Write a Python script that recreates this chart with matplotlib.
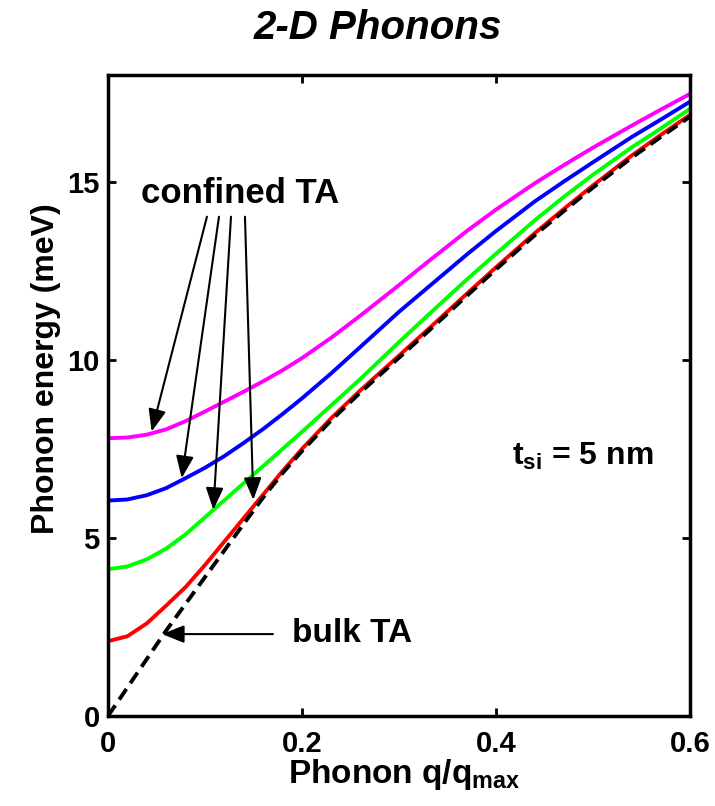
import matplotlib
matplotlib.use("Agg")
import matplotlib.pyplot as plt
import numpy as np

plt.rcParams['font.family'] = ['Liberation Sans', 'DejaVu Sans']
plt.rcParams['font.weight'] = 'bold'
plt.rcParams['mathtext.fontset'] = 'custom'
plt.rcParams['mathtext.default'] = 'bf'
plt.rcParams['mathtext.bf'] = 'Liberation Sans:bold'
plt.rcParams['mathtext.rm'] = 'Liberation Sans:bold'

# phonon wavevector q/q_max
q = [0, 0.02, 0.04, 0.06, 0.08, 0.10, 0.12, 0.14, 0.16, 0.18, 0.20, 0.23,
     0.26, 0.30, 0.33, 0.37, 0.40, 0.44, 0.47, 0.50, 0.54, 0.57, 0.60]

# confined TA branches (meV)
ta_magenta = [7.80, 7.82, 7.90, 8.05, 8.28, 8.55, 8.83, 9.11, 9.40, 9.71, 10.05, 10.62,
              11.24, 12.10, 12.76, 13.62, 14.22, 14.96, 15.47, 15.96, 16.58, 17.03, 17.47]
ta_blue = [6.05, 6.08, 6.20, 6.40, 6.68, 6.97, 7.30, 7.67, 8.06, 8.48, 8.92, 9.62,
           10.36, 11.35, 12.04, 12.96, 13.62, 14.45, 15.01, 15.55, 16.26, 16.75, 17.25]
ta_green = [4.12, 4.20, 4.40, 4.70, 5.10, 5.58, 6.06, 6.54, 7.02, 7.50, 7.98, 8.72,
            9.46, 10.50, 11.26, 12.26, 12.98, 13.92, 14.58, 15.20, 15.97, 16.50, 17.05]
ta_red = [2.10, 2.24, 2.60, 3.10, 3.62, 4.24, 4.90, 5.56, 6.22, 6.88, 7.50, 8.36,
          9.14, 10.12, 10.86, 11.86, 12.60, 13.56, 14.24, 14.90, 15.74, 16.32, 16.88]
# bulk TA
ta_bulk = [0.0, 0.80, 1.60, 2.40, 3.15, 3.90, 4.65, 5.40, 6.14, 6.82, 7.44, 8.30,
           9.08, 10.06, 10.80, 11.80, 12.54, 13.50, 14.18, 14.84, 15.68, 16.26, 16.83]

# annotation arrows (q, E)
confined_starts = [(0.102, 14.02), (0.1144, 14.02), (0.1268, 14.02), (0.1412, 14.02)]
confined_tips = [(0.045, 7.99), (0.076, 6.68), (0.1086, 5.79), (0.1498, 6.07)]

fig = plt.figure(figsize=(7.15, 8.06), dpi=100)
ax = fig.add_axes([108 / 715, 90 / 806, 582 / 715, 641 / 806])

lw = 2.8
ax.plot(q, ta_magenta, color='#ff00ff', lw=lw)
ax.plot(q, ta_blue, color='#0000ff', lw=lw)
ax.plot(q, ta_green, color='#00ff00', lw=lw)
ax.plot(q, ta_red, color='#ff0000', lw=lw)
ax.plot(q, ta_bulk, color='black', lw=2.8, linestyle=(0, (3.3, 1.8)))

ax.set_xlim(0, 0.6)
ax.set_ylim(0, 18)
ax.set_xticks([0, 0.2, 0.4, 0.6])
ax.set_xticklabels(['0', '0.2', '0.4', '0.6'])
ax.set_yticks([0, 5, 10, 15])
ax.set_yticklabels(['0', '5', '10', '15'])
ax.tick_params(direction='in', length=6, width=2, top=True, right=True, labelsize=21)
ax.tick_params(axis='x', pad=10)
ax.tick_params(axis='y', pad=6)
for sp in ax.spines.values():
    sp.set_linewidth(2.5)

arrow = dict(arrowstyle='-|>,head_length=0.9,head_width=0.36', mutation_scale=15,
             color='black', lw=1.5, shrinkA=0, shrinkB=0)
for start, tip in zip(confined_starts, confined_tips):
    ax.annotate('', xy=tip, xytext=start, arrowprops=arrow)

ax.text(0.1366, 14.66, 'confined TA', fontsize=25, fontweight='bold', ha='center', va='center')
ax.annotate('', xy=(0.0557, 2.30), xytext=(0.170, 2.30), arrowprops=arrow)
ax.text(0.1897, 2.33, 'bulk TA', fontsize=24, fontweight='bold', ha='left', va='center')
ax.text(0.4165, 7.05, 't$_{si}$ = 5 nm', fontsize=23, fontweight='bold', ha='left', va='baseline')

fig.text(378 / 715, 1 - 28 / 806, '2-D Phonons', fontsize=29, fontweight='bold',
         fontstyle='italic', ha='center', va='center')
fig.text(404 / 715, 1 - 775 / 806, 'Phonon q/q$_{max}$', fontsize=24, fontweight='bold',
         ha='center', va='center')
fig.text(46 / 715, 1 - 369 / 806, 'Phonon energy (meV)', fontsize=23, fontweight='bold',
         rotation=90, ha='center', va='center')

fig.savefig('out.png', dpi=100)
